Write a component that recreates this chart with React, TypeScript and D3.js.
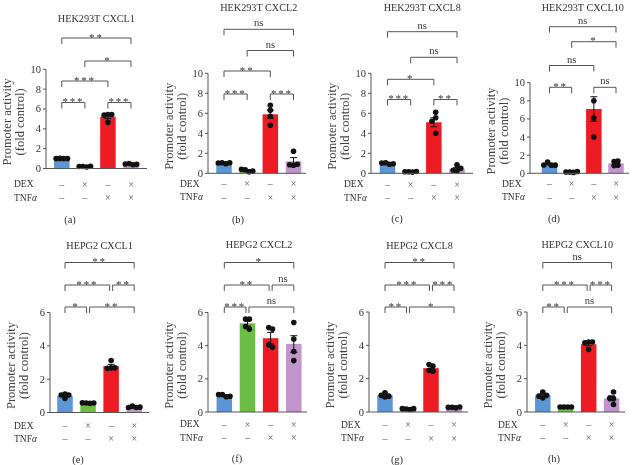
import React from "react";
import * as d3 from "d3";

// ---------- data ----------
const groupKeys = [0, 1, 2, 3];
const dexMarks = ["–", "×", "–", "×"];
const tnfMarks = ["–", "–", "×", "×"];
const barColors = ["#5b96d6", "#6cbd45", "#ed1c24", "#c294cc"];
const panelTitles = [
  "HEK293T CXCL1", "HEK293T CXCL2", "HEK293T CXCL8", "HEK293T CXCL10",
  "HEPG2 CXCL1", "HEPG2 CXCL2", "HEPG2 CXCL8", "HEPG2 CXCL10",
];
const panelLetters = ["(a)", "(b)", "(c)", "(d)", "(e)", "(f)", "(g)", "(h)"];
const ticksTop = [0, 2, 4, 6, 8, 10];
const ticksBottom = [0, 2, 4, 6];

const meansA = [1.0, 0.19, 5.22, 0.43];
const semsA = [0.01, 0.02, 0.19, 0.03];
const pointsA = [[1.0, 1.02, 1.0, 1.0], [0.15, 0.2, 0.22, 0.2], [5.45, 5.38, 5.45, 4.65], [0.38, 0.5, 0.42, 0.45]];

const meansB = [1.0, 0.27, 5.9, 1.2];
const semsB = [0.03, 0.06, 0.42, 0.37];
const pointsB = [[0.95, 1.05, 1.05, 1.03], [0.15, 0.35, 0.22, 0.4], [6.8, 6.3, 5.7, 4.8], [2.2, 0.8, 0.85, 0.9]];

const meansC = [0.98, 0.15, 5.1, 0.45];
const semsC = [0.04, 0.02, 0.45, 0.14];
const pointsC = [[0.9, 1.05, 0.95, 1.02], [0.12, 0.15, 0.18, 0.15], [6.1, 5.55, 5.2, 4.0], [0.25, 0.3, 0.5, 0.85]];

const meansD = [1.0, 0.15, 7.1, 1.1];
const semsD = [0.08, 0.02, 1.35, 0.12];
const pointsD = [[0.9, 1.25, 0.9, 0.92], [0.1, 0.15, 0.2, 0.15], [8.0, 6.1, 4.0], [1.35, 0.9, 1.3, 0.85]];

const meansE = [1.0, 0.56, 2.78, 0.32];
const semsE = [0.06, 0.01, 0.11, 0.02];
const pointsE = [[1.1, 0.85, 1.05, 1.05], [0.55, 0.57, 0.57, 0.58], [3.12, 2.68, 2.65, 2.68], [0.3, 0.38, 0.32, 0.3]];

const meansF = [1.0, 5.35, 4.45, 4.1];
const semsF = [0.03, 0.16, 0.35, 0.5];
const pointsF = [[0.92, 1.05, 0.95, 1.05], [5.6, 5.0, 5.6, 5.15], [5.0, 5.1, 3.9, 4.05], [5.4, 4.4, 3.65, 3.1]];

const meansG = [1.0, 0.18, 2.63, 0.27];
const semsG = [0.06, 0.01, 0.1, 0.01];
const pointsG = [[1.15, 0.9, 1.0, 0.95], [0.15, 0.18, 0.2, 0.2], [2.75, 2.85, 2.45, 2.5], [0.25, 0.28, 0.3, 0.28]];

const meansH = [1.0, 0.3, 4.07, 0.82];
const semsH = [0.07, 0.01, 0.1, 0.15];
const pointsH = [[0.85, 0.95, 1.0, 1.2], [0.3, 0.3, 0.3, 0.3], [4.2, 4.15, 4.2, 3.75], [1.2, 0.8, 0.82, 0.45]];

// comparisons: [group1, group2, label]
const compsA = [[0, 1, "***"], [2, 3, "***"], [0, 2, "***"], [1, 3, "*"], [0, 3, "**"]];
const compsB = [[0, 1, "***"], [2, 3, "***"], [0, 2, "**"], [1, 3, "ns"], [0, 3, "ns"]];
const compsC = [[0, 1, "***"], [2, 3, "**"], [0, 2, "*"], [1, 3, "ns"], [0, 3, "ns"]];
const compsD = [[0, 1, "**"], [2, 3, "ns"], [0, 2, "ns"], [1, 3, "*"], [0, 3, "ns"]];
const compsE = [[0, 1, "*"], [1, 3, "**"], [0, 2, "***"], [2, 3, "**"], [0, 3, "**"]];
const compsF = [[0, 1, "***"], [1, 3, "ns"], [0, 2, "**"], [2, 3, "ns"], [0, 3, "*"]];
const compsG = [[0, 1, "**"], [1, 3, "*"], [0, 2, "***"], [2, 3, "***"], [0, 3, "**"]];
const compsH = [[0, 1, "**"], [1, 3, "ns"], [0, 2, "***"], [2, 3, "***"], [0, 3, "ns"]];

// ---------- layout ----------
const layouts = [
  { axisX: 46, axisRight: 147, c0: 61.8, c3: 131, yTop: 69.3, yBottom: 168.5, yMax: 10, ticks: ticksTop, titleY: 18.5, rowY: [184, 197.5], letterY: 219.5, labelX: 14, letterX: 70, brY: [102.5, 102.5, 81, 61, 38] },
  { axisX: 208, axisRight: 306, c0: 224, c3: 293.5, yTop: 73.3, yBottom: 173.3, yMax: 10, ticks: ticksTop, titleY: 7.5, rowY: [183.5, 197], letterY: 219, labelX: 180, letterX: 238, brY: [94, 94, 71, 50.5, 29.3] },
  { axisX: 371, axisRight: 473, c0: 387.5, c3: 457, yTop: 73.3, yBottom: 173.3, yMax: 10, ticks: ticksTop, titleY: 7, rowY: [184, 197.5], letterY: 218.5, labelX: 344, letterX: 397, brY: [99.5, 99.5, 79.3, 57.3, 31.7] },
  { axisX: 530, axisRight: 629, c0: 549.5, c3: 616, yTop: 82.7, yBottom: 173.3, yMax: 10, ticks: ticksTop, titleY: 7.5, rowY: [183.5, 197], letterY: 218.5, labelX: 502, letterX: 554, brY: [87.3, 87.3, 65.5, 41.7, 26.7] },
  { axisX: 50, axisRight: 149, c0: 65, c3: 134.2, yTop: 312.5, yBottom: 412.5, yMax: 6, ticks: ticksBottom, titleY: 245, rowY: [425.5, 438.5], letterY: 459.5, labelX: 14, letterX: 78, brY: [307, 307, 285, 285, 262.5] },
  { axisX: 208, axisRight: 307, c0: 224.3, c3: 293.8, yTop: 312.5, yBottom: 412, yMax: 6, ticks: ticksBottom, titleY: 244.5, rowY: [424, 437.5], letterY: 458, labelX: 180, letterX: 237, brY: [307, 307, 285, 285, 262.5] },
  { axisX: 369, axisRight: 468, c0: 385, c3: 454, yTop: 312, yBottom: 412, yMax: 6, ticks: ticksBottom, titleY: 245, rowY: [424.5, 438], letterY: 459, labelX: 341, letterX: 397, brY: [307, 307, 285, 285, 262.5] },
  { axisX: 527, axisRight: 625, c0: 542.8, c3: 611.6, yTop: 312, yBottom: 412, yMax: 6, ticks: ticksBottom, titleY: 244.5, rowY: [424.5, 437.5], letterY: 458.5, labelX: 498, letterX: 554, brY: [307, 307, 285, 285, 262.5] },
];

const panelMeans = [meansA, meansB, meansC, meansD, meansE, meansF, meansG, meansH];
const panelSems = [semsA, semsB, semsC, semsD, semsE, semsF, semsG, semsH];
const panelPoints = [pointsA, pointsB, pointsC, pointsD, pointsE, pointsF, pointsG, pointsH];
const panelComps = [compsA, compsB, compsC, compsD, compsE, compsF, compsG, compsH];

const FONT = "'Liberation Serif', 'DejaVu Serif', serif";
const TXT = "#333";
const LINE = "#555";
const BAR_W = 15.5;
const DOT_R = 2.8;
const SPACING = 3.8;

function swarm(ys: number[]): number[] {
  const placed: { x: number; y: number }[] = [];
  const offs: number[] = [];
  ys.forEach((y) => {
    const cands = [0];
    for (let k = 1; k < 8; k++) cands.push(-k * SPACING, k * SPACING);
    let chosen = 0;
    for (const c of cands) {
      if (placed.every((p) => Math.hypot(p.x - c, p.y - y) >= SPACING - 0.01)) {
        chosen = c;
        break;
      }
    }
    placed.push({ x: chosen, y });
    offs.push(chosen);
  });
  const mn = Math.min(...offs), mx = Math.max(...offs);
  const shift = -(mn + mx) / 2;
  return offs.map((o) => o + shift);
}

function Panel({ idx }: { idx: number }) {
  const L = layouts[idx];
  const means = panelMeans[idx];
  const sems = panelSems[idx];
  const pts = panelPoints[idx];
  const comps = panelComps[idx];
  const x = d3.scalePoint<number>().domain(groupKeys).range([L.c0, L.c3]);
  const y = d3.scaleLinear().domain([0, L.yMax]).range([L.yBottom, L.yTop]);
  const midX = (L.c0 + L.c3) / 2;
  const yMid = (L.yTop + L.yBottom) / 2 + 3;

  const endKey = (g: number, lvl: number) => `${g}@${lvl}`;
  const counts: Record<string, number> = {};
  comps.forEach((c, i) => {
    [c[0] as number, c[1] as number].forEach((g) => {
      const k = endKey(g, L.brY[i]);
      counts[k] = (counts[k] || 0) + 1;
    });
  });

  return (
    <g>
      <text x={midX} y={L.titleY} textAnchor="middle" dominantBaseline="central" fontSize={10.2} fill={TXT} fontFamily={FONT}>
        {panelTitles[idx]}
      </text>
      <g transform={`translate(${L.axisX - 39},${yMid}) rotate(-90)`}>
        <text textAnchor="middle" dominantBaseline="central" fontSize={12.5} fill="#444" fontFamily={FONT}>Promoter activity</text>
      </g>
      <g transform={`translate(${L.axisX - 26.5},${yMid}) rotate(-90)`}>
        <text textAnchor="middle" dominantBaseline="central" fontSize={12.5} fill="#444" fontFamily={FONT}>(fold control)</text>
      </g>
      {groupKeys.map((g) => (
        <rect key={"b" + g} x={(x(g) as number) - BAR_W / 2} y={y(means[g])} width={BAR_W} height={y(0) - y(means[g])} fill={barColors[g]} />
      ))}
      {groupKeys.map((g) => {
        const cx = x(g) as number;
        const hi = y(means[g] + sems[g]);
        const lo = y(Math.max(0, means[g] - sems[g]));
        return (
          <g key={"e" + g} stroke="#111" strokeWidth={1}>
            <line x1={cx} x2={cx} y1={hi} y2={lo} />
            <line x1={cx - 3.5} x2={cx + 3.5} y1={hi} y2={hi} />
            <line x1={cx - 3.5} x2={cx + 3.5} y1={lo} y2={lo} />
          </g>
        );
      })}
      {groupKeys.map((g) => {
        const ys = pts[g].map((v) => y(v));
        const offs = swarm(ys);
        return ys.map((py, j) => (
          <circle key={`p${g}-${j}`} cx={(x(g) as number) + offs[j]} cy={py} r={DOT_R} fill="#111" />
        ));
      })}
      <line x1={L.axisX} x2={L.axisRight} y1={L.yBottom} y2={L.yBottom} stroke={LINE} strokeWidth={1} />
      <line x1={L.axisX} x2={L.axisX} y1={L.yTop} y2={L.yBottom} stroke={LINE} strokeWidth={1} />
      {L.ticks.map((t) => (
        <g key={"t" + t}>
          <line x1={L.axisX - 3} x2={L.axisX} y1={y(t)} y2={y(t)} stroke={LINE} strokeWidth={1} />
          <text x={L.axisX - 5} y={y(t)} textAnchor="end" dominantBaseline="central" fontSize={10.5} fill={TXT} fontFamily={FONT}>
            {t}
          </text>
        </g>
      ))}
      <text x={L.labelX} y={L.rowY[0]} dominantBaseline="central" fontSize={9.5} fill={TXT} fontFamily={FONT}>DEX</text>
      <text x={L.labelX} y={L.rowY[1]} dominantBaseline="central" fontSize={9.5} fill={TXT} fontFamily={FONT}>
        TNF<tspan fontStyle="italic">α</tspan>
      </text>
      {groupKeys.map((g) => (
        <g key={"m" + g}>
          <text x={x(g) as number} y={L.rowY[0]} textAnchor="middle" dominantBaseline="central" fontSize={10} fill="#555" fontFamily={FONT}>{dexMarks[g]}</text>
          <text x={x(g) as number} y={L.rowY[1]} textAnchor="middle" dominantBaseline="central" fontSize={10} fill="#555" fontFamily={FONT}>{tnfMarks[g]}</text>
        </g>
      ))}
      {comps.map((c, i) => {
        const g1 = c[0] as number, g2 = c[1] as number;
        const lvl = L.brY[i];
        const inset1 = counts[endKey(g1, lvl)] > 1 ? 1.5 : 0;
        const inset2 = counts[endKey(g2, lvl)] > 1 ? 1.5 : 0;
        const x1 = (x(g1) as number) + inset1;
        const x2 = (x(g2) as number) - inset2;
        const label = c[2] as string;
        const isNs = label === "ns";
        return (
          <g key={"c" + i}>
            <path d={`M${x1},${lvl + 6}V${lvl}H${x2}V${lvl + 6}`} fill="none" stroke={LINE} strokeWidth={1} />
            <text x={(x1 + x2) / 2} y={isNs ? lvl - 6.5 : lvl - 1.5} textAnchor="middle" dominantBaseline="central"
              fontSize={isNs ? 10.5 : 11} letterSpacing={isNs ? 0 : 1.8} fill={TXT} fontFamily={FONT}>
              {label}
            </text>
          </g>
        );
      })}
      <text x={L.letterX} y={L.letterY} textAnchor="middle" dominantBaseline="central" fontSize={10.5} fill={TXT} fontFamily={FONT}>
        {panelLetters[idx]}
      </text>
    </g>
  );
}

export default function App() {
  return (
    <svg width={632} height={465} style={{ position: "absolute", left: 0, top: 0, opacity: 0.999, willChange: "transform" }}>
      <rect width={632} height={465} fill="#fff" />
      {layouts.map((_, i) => (
        <Panel key={i} idx={i} />
      ))}
    </svg>
  );
}
